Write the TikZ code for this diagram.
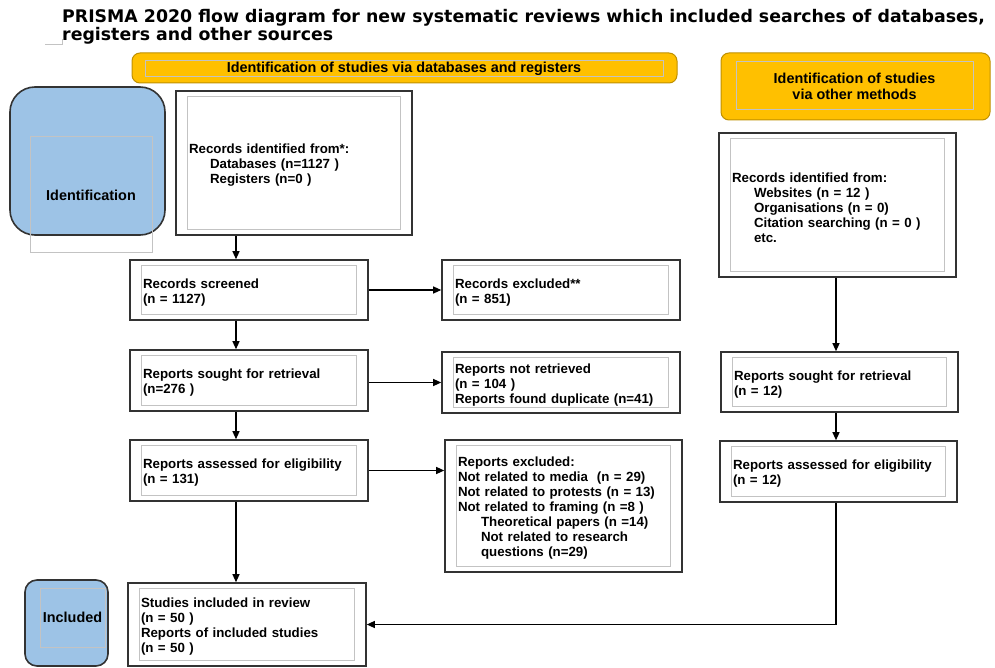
\documentclass[tikz,border=0pt]{standalone}
\usepackage{fontspec}
\setmainfont{Liberation Sans}
\newfontfamily\titlefont{DejaVu Sans}
\usetikzlibrary{arrows.meta}
\definecolor{bannerfill}{RGB}{255,192,0}
\definecolor{banneredge}{RGB}{191,144,0}
\definecolor{phasefill}{RGB}{157,195,230}
\definecolor{boxedge}{RGB}{51,51,51}
\definecolor{frameline}{RGB}{195,195,195}

\tikzset{
  flowbox/.style 2 args={draw=boxedge, line width=1.6pt, inner xsep=13pt, inner ysep=0pt,
    text width=#1, minimum height=#2, text height=14.5pt, align=left, font=\fontsize{13.3}{15}\selectfont\bfseries},
  innerframe/.style={draw=frameline, line width=1pt},
  phasebox/.style={fill=phasefill, draw=boxedge, line width=1.6pt},
  phaselabel/.style={draw=frameline, line width=1pt, inner sep=0pt, font=\fontsize{14.4}{16}\selectfont\bfseries},
  banner/.style={fill=bannerfill, draw=banneredge, line width=1pt, rounded corners=8pt},
  bannerlabel/.style={draw=frameline, line width=1pt, inner sep=0pt, align=center,
    font=\fontsize{14.4}{16}\selectfont\bfseries},
  flowarrow/.style={line width=1.2pt, -{Triangle[length=8pt,width=7pt]}},
  flowline/.style={line width=1.2pt}
}

\begin{document}
\begin{tikzpicture}[x=1pt,y=-1pt]
    \useasboundingbox (0,0) rectangle (995,668);
    % title
    \node[anchor=north west, inner sep=0pt, align=left, font=\titlefont\fontsize{17.35}{16.6}\selectfont\bfseries] (title) at (62,9.5)
        {PRISMA 2020 flow diagram for new systematic reviews which included searches of databases,\\registers and other sources};
    \draw[frameline, line width=0.8pt] (45,44) -- (62,44) -- (62,39);
    % banners
    \node[banner, minimum width=545pt, minimum height=30pt] (dbbanner) at (404.5,68) {};
    \node[bannerlabel, minimum width=518pt, minimum height=16pt] (dblabel) at (404,69)
        {Identification of studies via databases and registers};
    \node[banner, minimum width=269pt, minimum height=67pt] (otherbanner) at (855.5,86.5) {};
    \node[bannerlabel, minimum width=237pt, minimum height=48pt] (otherlabel) at (854.5,86)
        {Identification of studies\\via other methods};
    % phases
    \node[phasebox, rounded corners=25pt, minimum width=155pt, minimum height=148pt] (identphase) at (87.5,161) {};
    \node[phaselabel, minimum width=122pt, minimum height=116pt] (identlabel) at (91,195) {Identification};
    \node[phasebox, rounded corners=12pt, minimum width=83pt, minimum height=86pt] (inclphase) at (66.5,623) {};
    \node[phaselabel, minimum width=65pt, minimum height=59pt] (incllabel) at (72.5,617.5) {Included};
    % databases and registers
    \node[flowbox={210pt}{144pt}] (recid) at (294,163)
        {Records identified from*:\\\hspace*{21pt}Databases (n=1127 )\\\hspace*{21pt}Registers (n=0 )};
    \node[flowbox={212pt}{60pt}] (screen) at (249,290) {Records screened\\(n = 1127)};
    \node[flowbox={212pt}{60pt}] (recexcl) at (561,290) {Records excluded**\\(n = 851)};
    \node[flowbox={212pt}{61pt}] (sought) at (249,380.5) {Reports sought for retrieval\\(n=276 )};
    \node[flowbox={212pt}{61pt}] (notret) at (561,382.5)
        {Reports not retrieved\\(n = 104 )\\Reports found duplicate (n=41)};
    \node[flowbox={212pt}{61pt}] (assess) at (249,470.5) {Reports assessed for eligibility\\(n = 131)};
    \node[flowbox={211pt}{132pt}] (repexcl) at (563.5,506)
        {Reports excluded:\\Not related to media \ (n = 29)\\Not related to protests (n = 13)\\Not related to framing (n =8 )\\
         \hspace*{23pt}Theoretical papers (n =14)\\\hspace*{23pt}Not related to research\\\hspace*{23pt}questions (n=29)};
    \node[flowbox={212pt}{83pt}] (incl) at (247,624.5)
        {Studies included in review\\(n = 50 )\\Reports of included studies\\(n = 50 )};
    % other methods
    \node[flowbox={211pt}{144pt}] (othid) at (837.5,205)
        {Records identified from:\\\hspace*{22pt}Websites (n = 12 )\\\hspace*{22pt}Organisations (n = 0)\\
         \hspace*{22pt}Citation searching (n = 0 )\\\hspace*{22pt}etc.};
    \node[flowbox={211pt}{60pt}] (othsought) at (839.5,382) {Reports sought for retrieval\\(n = 12)};
    \node[flowbox={211pt}{61pt}] (othassess) at (838.5,471.5) {Reports assessed for eligibility\\(n = 12)};
    % inner frames
    \foreach \n in {recid,screen,recexcl,sought,notret,assess,repexcl,incl,othid,othsought,othassess}
        \draw[innerframe] ([shift={(12pt,-6pt)}]\n.north west) rectangle ([shift={(-12pt,6pt)}]\n.south east);
    % connectors
    \coordinate (leftx) at (236,0);
    \coordinate (rightx) at (836,0);
    \draw[flowarrow] (recid.south -| leftx) -- (screen.north -| leftx);
    \draw[flowarrow] (screen.south -| leftx) -- (sought.north -| leftx);
    \draw[flowarrow] (sought.south -| leftx) -- (assess.north -| leftx);
    \draw[flowarrow] (assess.south -| leftx) -- (incl.north -| leftx);
    \draw[flowarrow] (screen.east) -- (recexcl.west);
    \draw[flowarrow] (notret.west -| sought.east) -- (notret.west);
    \draw[flowarrow] (assess.east) -- (assess.east -| repexcl.west);
    \draw[flowarrow] (othid.south -| rightx) -- (othsought.north -| rightx);
    \draw[flowarrow] (othsought.south -| rightx) -- (othassess.north -| rightx);
    \draw[flowarrow] (othassess.south -| rightx) |- (incl.east);
\end{tikzpicture}
\end{document}
